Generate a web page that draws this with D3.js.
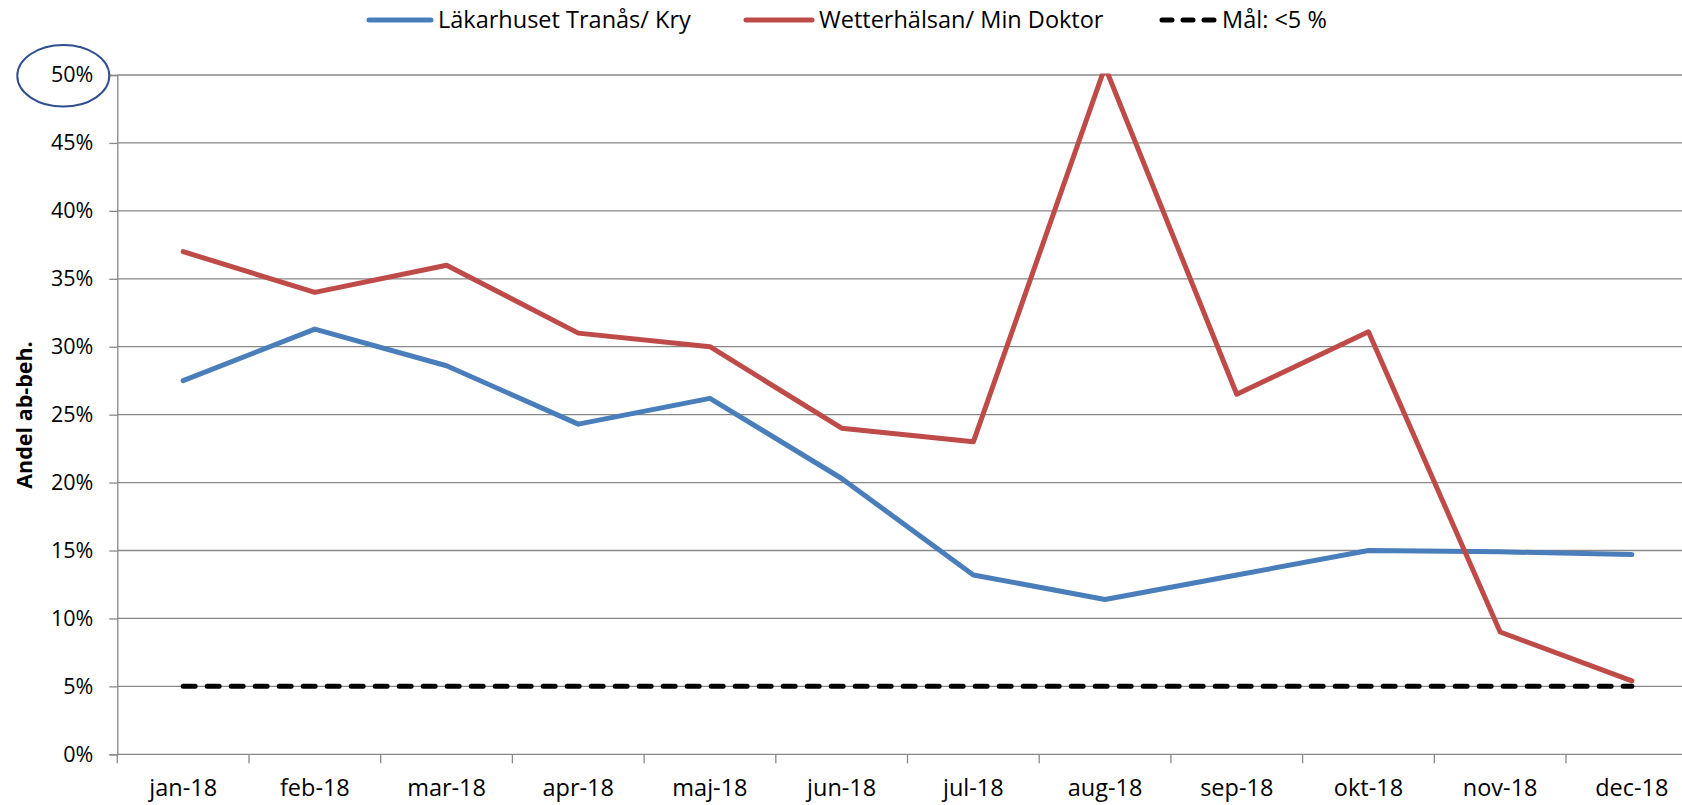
<!DOCTYPE html>
<html>
<head>
<meta charset="utf-8">
<script src="https://cdn.jsdelivr.net/npm/d3@7"></script>
<style>
  body { margin: 0; background: #fff; }
  svg { display: block; font-family: "Open Sans", sans-serif; }
</style>
</head>
<body>
<script>
const months = ["jan-18","feb-18","mar-18","apr-18","maj-18","jun-18","jul-18","aug-18","sep-18","okt-18","nov-18","dec-18"];
const lakarhuset = [27.5, 31.3, 28.6, 24.3, 26.2, 20.3, 13.2, 11.4, 13.2, 15.0, 14.9, 14.7];
const wetterhalsan = [37.0, 34.0, 36.0, 31.0, 30.0, 24.0, 23.0, 50.6, 26.5, 31.1, 9.0, 5.4];
const goal = [5, 5, 5, 5, 5, 5, 5, 5, 5, 5, 5, 5];
const yTicks = [0, 5, 10, 15, 20, 25, 30, 35, 40, 45, 50];

const series = [
  {name: "Läkarhuset Tranås/ Kry", values: lakarhuset, color: "#4A7EBB", dash: null},
  {name: "Wetterhälsan/ Min Doktor", values: wetterhalsan, color: "#BE4B48", dash: null},
  {name: "Mål: <5 %", values: goal, color: "#000000", dash: "12,12"}
];

const W = 1682, H = 805;
const plot = {left: 117.3, top: 75, bottom: 754.3, step: 131.7};

const svg = d3.select("body").append("svg")
  .attr("width", W).attr("height", H);

//scales
const x = d3.scaleBand()
  .domain(months)
  .range([plot.left, plot.left + plot.step * months.length]);

const y = d3.scaleLinear()
  .domain([0, 50])
  .range([plot.bottom, plot.top]);

//horizontal gridlines
svg.append("g")
  .selectAll("line")
  .data(yTicks.filter(d => d > 0))
  .enter().append("line")
    .attr("x1", plot.left).attr("x2", W)
    .attr("y1", d => y(d)).attr("y2", d => y(d))
    .attr("stroke", "#888").attr("stroke-width", 1.3);

//y axis
const yAxis = svg.append("g")
  .attr("transform", `translate(${plot.left},0)`)
  .call(d3.axisLeft(y).tickValues(yTicks).tickSize(8).tickPadding(16).tickFormat(d => d + "%"));
yAxis.select(".domain").attr("stroke", "#888").attr("stroke-width", 1.3);
yAxis.selectAll(".tick line").attr("stroke", "#888").attr("stroke-width", 1.3);
yAxis.selectAll(".tick text")
  .attr("font-family", "Open Sans, sans-serif")
  .attr("font-size", 21.5).attr("fill", "#000");

//x axis
const xAxis = svg.append("g")
  .attr("transform", `translate(0,${plot.bottom})`)
  .call(d3.axisBottom(x).tickSize(0).tickPadding(25));
xAxis.select(".domain").remove();
xAxis.append("line")
  .attr("x1", plot.left).attr("x2", W)
  .attr("stroke", "#888").attr("stroke-width", 1.3);
xAxis.selectAll(".tick text")
  .attr("font-family", "Open Sans, sans-serif")
  .attr("font-size", 23.5).attr("fill", "#000");

//tick marks at category boundaries
xAxis.selectAll(".boundary")
  .data(months)
  .enter().append("line")
    .attr("class", "boundary")
    .attr("x1", d => x(d)).attr("x2", d => x(d))
    .attr("y1", 0).attr("y2", 9)
    .attr("stroke", "#888").attr("stroke-width", 1.3);

//y axis title
svg.append("text")
  .attr("transform", `translate(32,415) rotate(-90)`)
  .attr("text-anchor", "middle")
  .attr("font-weight", "bold")
  .attr("font-size", 21.5)
  .text("Andel ab-beh.");

//circle around the 50% label
svg.append("ellipse")
  .attr("cx", 63.3).attr("cy", y(50) + 0.8)
  .attr("rx", 46).attr("ry", 30.8)
  .attr("fill", "none")
  .attr("stroke", "#2F4F8F").attr("stroke-width", 2);

//clip so the peak is cut at the top of the plot
svg.append("clipPath").attr("id", "plotclip")
  .append("rect")
    .attr("x", plot.left).attr("y", plot.top - 1.5)
    .attr("width", W).attr("height", plot.bottom - plot.top + 10);

const line = d3.line()
  .x((d, i) => x(months[i]) + x.bandwidth() / 2)
  .y(d => y(d));

svg.append("g")
  .attr("clip-path", "url(#plotclip)")
  .selectAll("path")
  .data(series)
  .enter().append("path")
    .attr("d", s => line(s.values))
    .attr("fill", "none")
    .attr("stroke", s => s.color)
    .attr("stroke-width", 5)
    .attr("stroke-linecap", "round")
    .attr("stroke-linejoin", "round")
    .attr("stroke-dasharray", s => s.dash);

//legend
const legendX = [367, 744, 1160];
const legendLen = [66, 70, 57];
const legend = svg.append("g")
  .selectAll("g")
  .data(series)
  .enter().append("g")
    .attr("transform", (d, i) => `translate(${legendX[i]},20)`);

legend.append("line")
  .attr("x1", 2).attr("x2", (d, i) => legendLen[i] - 2)
  .attr("stroke", d => d.color)
  .attr("stroke-width", 5)
  .attr("stroke-linecap", "round")
  .attr("stroke-dasharray", d => d.dash ? "10,11" : null);

legend.append("text")
  .attr("x", (d, i) => legendLen[i] + 5)
  .attr("dy", "0.35em")
  .attr("font-size", 23.5)
  .text(d => d.name);
</script>
</body>
</html>
